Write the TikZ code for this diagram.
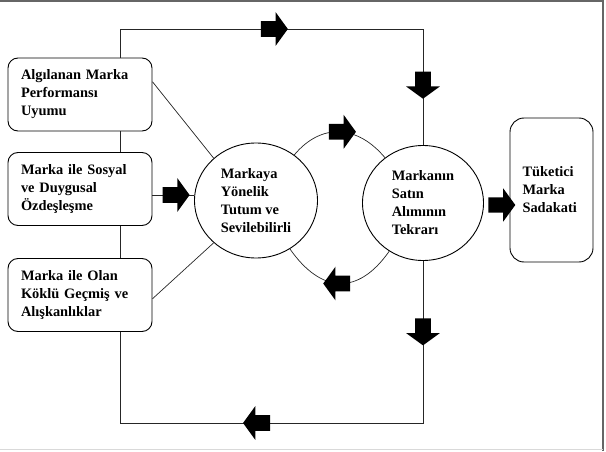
\documentclass[tikz,border=0pt]{standalone}
\usepackage{fontspec}
\setmainfont{Liberation Serif}
\usetikzlibrary{shapes.geometric,shapes.arrows}

\begin{document}
\begin{tikzpicture}[x=1pt, y=1pt,
    every node/.style={font=\bfseries\fontsize{14.4}{18}\selectfont},
    box/.style={draw, fill=white, rounded corners=10pt, line width=0.9pt, minimum width=144pt, minimum height=73pt, text width=118pt, align=left, inner xsep=13pt, inner ysep=0pt},
    ring/.style={draw, fill=white, ellipse, line width=0.9pt, minimum width=123pt, minimum height=115pt, align=left, inner sep=0pt},
    fat/.style={single arrow, fill=black, draw=none, minimum height=27pt, inner xsep=0pt, inner ysep=7.5pt, single arrow head extend=9pt, single arrow tip angle=108},
    link/.style={line width=0.7pt, black!85}]

  \useasboundingbox (0,0) rectangle (606,451);

  % Frame
  \draw[black!60, line width=1.2pt] (0,450) -- (603,450) -- (603,0);
  \draw[black!15] (0,1.5) -- (603,1.5);

  % Left boxes
  \node[box] (b1) at (80,356.5) {Algılanan Marka\\ Performansı\\ Uyumu};
  \node[box] (b2) at (80,262) {Marka ile Sosyal\\ ve Duygusal\\ Özdeşleşme};
  \node[box] (b3) at (80,156) {Marka ile Olan\\ Köklü Geçmiş ve\\ Alışkanlıklar};

  % Circles
  \node[ring] (c1) at (256,250.5) {Markaya\\ Yönelik\\ Tutum ve\\ Sevilebilirli};
  \node[ring, minimum width=121pt] (c2) at (423,248) {Markanın\\ Satın\\ Alımının\\ Tekrarı};

  % Result
  \node[box, rounded corners=14pt, minimum width=83pt, minimum height=144pt, text width=58pt, inner xsep=12.5pt] (b4) at (551.5,261) {Tüketici\\ Marka\\ Sadakati};

  % Inputs
  \coordinate (m) at (175,256);
  \draw[link] (b1.10) -- (c1.135);
  \draw[link] (m -| b2.east) -- node[fat, pos=.5] (f3) {} (m -| c1.west);
  \draw[link] (b3.-3) -- (c1.225);

  % Between circles
  \draw[link] (c1.50) to[out=50, in=130, looseness=1.2] node[fat, pos=.5] (f4) {} (c2.130);
  \draw[link] (c2.-125) to[out=-125, in=-55, looseness=1.4] node[fat, rotate=180, pos=.5] (f5) {} (c1.-55);
  \node[fat] (f6) at (499,246) {};

  % Loop
  \coordinate (tl) at (120,422);
  \coordinate (bl) at (120,28);
  \draw[link] (tl |- b1.north) -- (tl) -- node[fat, pos=.5] (f1) {} (tl -| c2.north) -- node[fat, rotate=-90, pos=.46] (f2) {} (c2.north);
  \draw[link] (c2.south) -- node[fat, rotate=-90, pos=.42] (f7) {} (bl -| c2.south) -- node[fat, rotate=180, pos=.54] (f8) {} (bl) -- (tl |- b3.south);
  \draw[link] (tl |- b3.north) -- (tl |- b2.south);
  \draw[link] (tl |- b2.north) -- (tl |- b1.south);

\end{tikzpicture}
\end{document}
